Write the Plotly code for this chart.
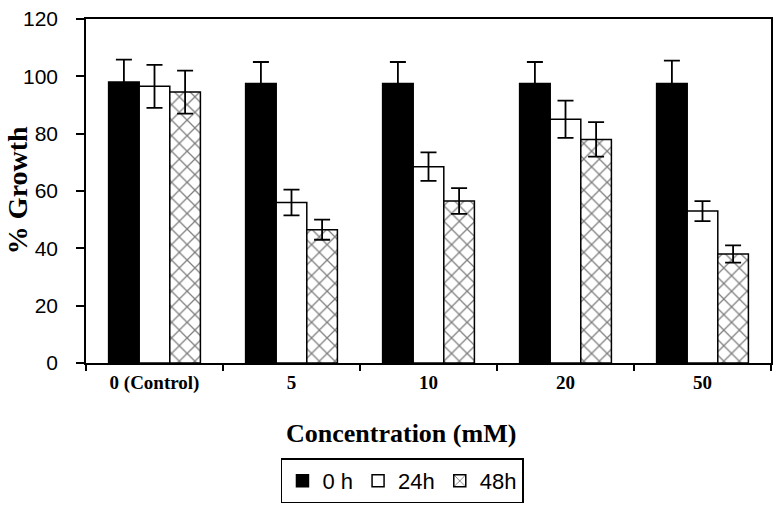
import plotly.graph_objects as go

categories = ["0 (Control)", "5", "10", "20", "50"]
series_names = ["0 h", "24h", "48h"]
growth_0h = [98.0, 97.5, 97.5, 97.5, 97.5]
err_0h = [7.8, 7.5, 7.5, 7.5, 8.0]
growth_24h = [96.5, 56.0, 68.5, 85.0, 53.0]
err_24h = [7.5, 4.5, 5.0, 6.5, 3.5]
growth_48h = [94.5, 46.5, 56.5, 78.0, 38.0]
err_48h = [7.5, 3.5, 4.5, 6.0, 3.0]
y_ticks = [0, 20, 40, 60, 80, 100, 120]
x_title = "Concentration (mM)"
y_title = "% Growth"

fig = go.Figure()

def eb(arr):
    return dict(type="data", array=arr, visible=True, color="black", thickness=1.8, width=8)

fig.add_trace(go.Bar(name=series_names[0], x=categories, y=growth_0h, error_y=eb(err_0h),
                     marker=dict(color="black", line=dict(color="black", width=1.5))))
fig.add_trace(go.Bar(name=series_names[1], x=categories, y=growth_24h, error_y=eb(err_24h),
                     marker=dict(color="white", line=dict(color="black", width=1.5))))
fig.add_trace(go.Bar(name=series_names[2], x=categories, y=growth_48h, error_y=eb(err_48h),
                     marker=dict(color="white", line=dict(color="black", width=1.5),
                                 pattern=dict(shape="x", size=11, solidity=0.22, fgcolor="black", bgcolor="white"))))

fig.update_layout(
    width=780, height=508,
    margin=dict(l=86, r=9, t=19, b=145, autoexpand=False),
    paper_bgcolor="white", plot_bgcolor="white",
    barmode="group", bargap=0.33, bargroupgap=0,
    showlegend=True,
    legend=dict(orientation="h", x=0.462, y=-0.343, xanchor="center", yanchor="middle",
                bordercolor="black", borderwidth=1.5,
                font=dict(family="Liberation Sans, Arial", size=22, color="black"),
                itemwidth=30, traceorder="normal"),
    xaxis=dict(
        type="category", showline=True, linecolor="black", linewidth=1.5, mirror=True,
        ticks="outside", tickson="boundaries", ticklen=6, tickcolor="black", tickwidth=1.5,
        automargin=False, ticklabelstandoff=1,
        tickfont=dict(family="Liberation Serif, Times New Roman", size=19, color="black", weight="bold"),
    ),
    yaxis=dict(
        range=[0, 120], tickvals=y_ticks, showline=True, linecolor="black", linewidth=1.5, mirror=True,
        showgrid=False, zeroline=False, ticks="outside", ticklen=8, tickcolor="black", tickwidth=1.5,
        automargin=False, ticklabelstandoff=14,
        tickfont=dict(family="Liberation Sans, Arial", size=21, color="black"),
    ),
    annotations=[
        dict(text="<b>" + x_title + "</b>", xref="paper", yref="paper", x=0.46, y=-0.2035,
             xanchor="center", yanchor="middle", showarrow=False,
             font=dict(family="Liberation Serif, Times New Roman", size=26, color="black")),
        dict(text="<b>" + y_title + "</b>", xref="paper", yref="paper", x=-0.099, y=0.503,
             xanchor="center", yanchor="middle", showarrow=False, textangle=-90,
             font=dict(family="Liberation Serif, Times New Roman", size=28, color="black")),
    ],
)

fig.write_html("out.html", config={"displayModeBar": False},
               post_script="document.body.style.margin='0';document.body.style.padding='0';")
